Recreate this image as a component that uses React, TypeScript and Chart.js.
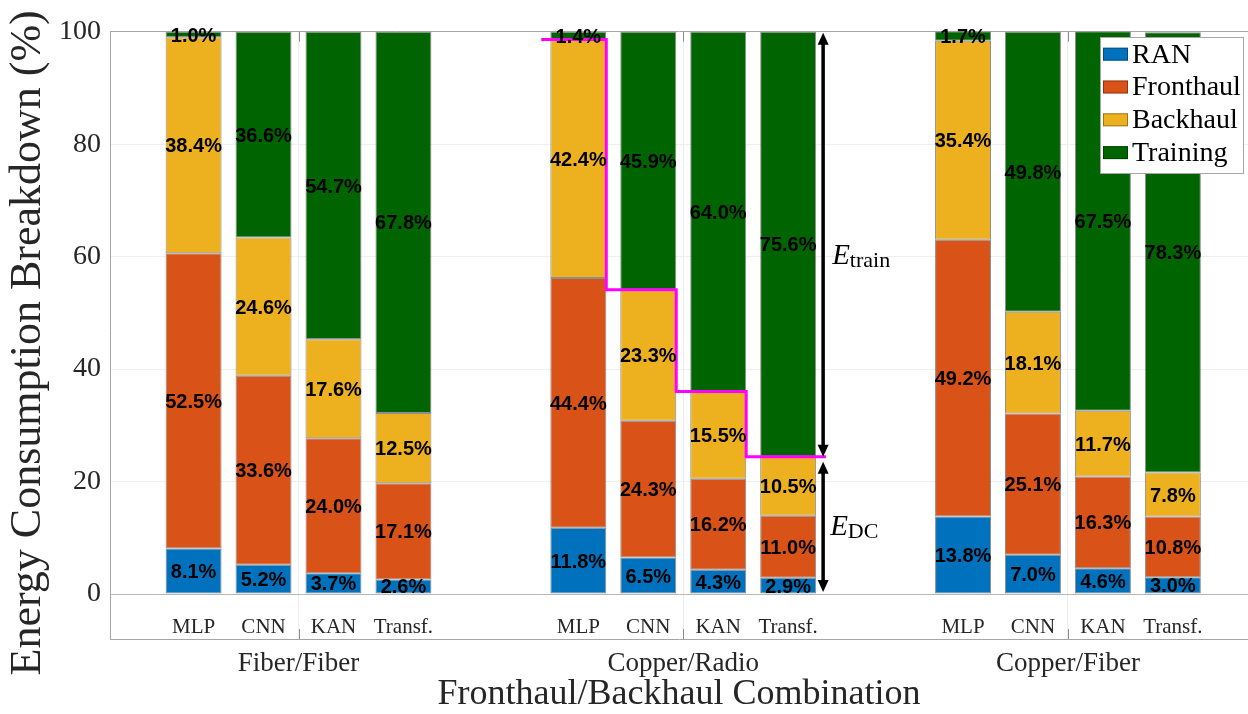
import { useEffect, useRef } from 'react';
import { Chart, registerables } from 'chart.js';

Chart.register(...registerables);

// ---- data ---------------------------------------------------------------
const groups = ['Fiber/Fiber', 'Copper/Radio', 'Copper/Fiber'];
const models = ['MLP', 'CNN', 'KAN', 'Transf.'];
const seriesNames = ['RAN', 'Fronthaul', 'Backhaul', 'Training'];

// shares (%) per bar, ordered group by group, model by model
const ranShare = [8.1, 5.2, 3.7, 2.6, 11.8, 6.5, 4.3, 2.9, 13.8, 7.0, 4.6, 3.0];
const fronthaulShare = [52.5, 33.6, 24.0, 17.1, 44.4, 24.3, 16.2, 11.0, 49.2, 25.1, 16.3, 10.8];
const backhaulShare = [38.4, 24.6, 17.6, 12.5, 42.4, 23.3, 15.5, 10.5, 35.4, 18.1, 11.7, 7.8];
const trainingShare = [1.0, 36.6, 54.7, 67.8, 1.4, 45.9, 64.0, 75.6, 1.7, 49.8, 67.5, 78.3];

const yTicks = [0, 20, 40, 60, 80, 100];
const groupTicks = [1, 2, 3];
const yTitle = 'Energy Consumption Breakdown (%)';

// ---- styling ------------------------------------------------------------
const colors = ['#0072BD', '#D95319', '#EDB120', '#006400'];
const SERIF = '"Liberation Serif", "Times New Roman", serif';
const SANS = '"Liberation Sans", Arial, sans-serif';
const AXIS_GRAY = '#a6a6a6';
const TEXT_GRAY = '#262626';

// axis limits
const xMin = 0.51;
const xMax = 3.468;
const yMin = -8;
const yMax = 100;
const modelLabelY = -5.9; // model names sit inside the axes, below zero
const eTrainY = 60.5;
const highlightGroup = 1; // Copper/Radio gets the step line and arrows

// bar centres: four models per group, groups are 5.5 bar pitches apart
const pitch = 1 / 5.5;
const barX = groups.flatMap((_, g) => models.map((_, m) => g + 1 + (m - 1.5) * pitch));

const shares = [ranShare, fronthaulShare, backhaulShare, trainingShare];

function doubleArrow(ctx: CanvasRenderingContext2D, x: number, y1: number, y2: number) {
  const hl = 12;
  const hw = 5.5;
  ctx.beginPath();
  ctx.moveTo(x, y1 + hl - 2);
  ctx.lineTo(x, y2 - hl + 2);
  ctx.stroke();
  ctx.beginPath();
  ctx.moveTo(x, y1);
  ctx.lineTo(x - hw, y1 + hl);
  ctx.lineTo(x + hw, y1 + hl);
  ctx.closePath();
  ctx.fill();
  ctx.beginPath();
  ctx.moveTo(x, y2);
  ctx.lineTo(x - hw, y2 - hl);
  ctx.lineTo(x + hw, y2 - hl);
  ctx.closePath();
  ctx.fill();
}

function subscriptLabel(ctx: CanvasRenderingContext2D, x: number, yMid: number, sub: string) {
  ctx.textAlign = 'left';
  ctx.textBaseline = 'alphabetic';
  ctx.fillStyle = '#000';
  ctx.font = `italic 29px ${SERIF}`;
  const base = yMid + 10;
  ctx.fillText('E', x, base);
  const w = ctx.measureText('E').width;
  ctx.font = `22px ${SERIF}`;
  ctx.fillText(sub, x + w, base + 3);
}

const overlay = {
  id: 'overlay',
  afterDatasetsDraw(chart: any) {
    const ctx: CanvasRenderingContext2D = chart.ctx;
    const { top, bottom, right } = chart.chartArea;
    const xs = chart.scales.x;
    const ys = chart.scales.y;
    ctx.save();

    // inward tick marks at the group centres
    ctx.strokeStyle = '#8c8c8c';
    ctx.lineWidth = 1;
    groupTicks.forEach((v) => {
      const px = Math.round(xs.getPixelForValue(v)) + 0.5;
      ctx.beginPath();
      ctx.moveTo(px, bottom);
      ctx.lineTo(px, bottom - 10);
      ctx.moveTo(px, top);
      ctx.lineTo(px, top + 10);
      ctx.stroke();
    });

    // step line over the data-centre share of the highlighted group
    const dcMeta = chart.getDatasetMeta(2);
    const els = models.map((_, m) => dcMeta.data[highlightGroup * models.length + m] as any);
    const step = els[1].x - els[0].x;
    ctx.strokeStyle = '#ff00ff';
    ctx.lineWidth = 3;
    ctx.lineJoin = 'miter';
    ctx.beginPath();
    ctx.moveTo(els[0].x - els[0].width / 2 - 0.13 * step, els[0].y);
    els.forEach((el, k) => {
      const xr = el.x + el.width / 2;
      if (k < els.length - 1) {
        ctx.lineTo(xr, el.y);
        ctx.lineTo(xr, els[k + 1].y);
      } else {
        ctx.lineTo(xr + 0.14 * step, el.y);
      }
    });
    ctx.stroke();

    // E_train / E_DC arrows beside the last bar
    const last = els[els.length - 1];
    const ax = last.x + step / 2;
    const yTop = ys.getPixelForValue(yMax);
    const yZero = ys.getPixelForValue(0);
    ctx.strokeStyle = '#000';
    ctx.fillStyle = '#000';
    ctx.lineWidth = 3.5;
    doubleArrow(ctx, ax, yTop + 1, last.y);
    doubleArrow(ctx, ax, last.y + 5, yZero - 2);
    subscriptLabel(ctx, ax + 9, ys.getPixelForValue(eTrainY), 'train');
    subscriptLabel(ctx, ax + 7, (last.y + yZero) / 2, 'DC');

    // percentage labels in every segment
    ctx.font = `bold 20px ${SANS}`;
    ctx.fillStyle = '#000';
    ctx.textAlign = 'center';
    ctx.textBaseline = 'middle';
    chart.data.datasets.forEach((ds: any, di: number) => {
      const meta = chart.getDatasetMeta(di);
      meta.data.forEach((el: any, i: number) => {
        const v = ds.data[i].y as number;
        ctx.fillText(`${v.toFixed(1)}%`, el.x, (el.y + el.base) / 2 + 1.5);
      });
    });

    // model names under each bar
    ctx.font = `21px ${SERIF}`;
    ctx.fillStyle = TEXT_GRAY;
    barX.forEach((x, i) => {
      ctx.fillText(models[i % models.length], xs.getPixelForValue(x), ys.getPixelForValue(modelLabelY));
    });

    // legend box (top-right, inside the axes)
    const lw = 143;
    const lh = 136;
    const lx = right - 5 - lw;
    const ly = top + 5.5;
    ctx.fillStyle = '#fff';
    ctx.fillRect(lx, ly, lw, lh);
    ctx.strokeStyle = AXIS_GRAY;
    ctx.lineWidth = 1;
    ctx.strokeRect(Math.round(lx) + 0.5, Math.round(ly) + 0.5, lw, lh);
    ctx.font = `28px ${SERIF}`;
    ctx.textAlign = 'left';
    ctx.textBaseline = 'middle';
    seriesNames.forEach((name, i) => {
      const ry = top + 22.5 + i * 32.8;
      ctx.fillStyle = colors[i];
      ctx.fillRect(lx + 3, ry - 6.5, 25, 13);
      ctx.strokeStyle = 'rgba(0,0,0,0.35)';
      ctx.strokeRect(lx + 3.5, ry - 6, 24, 12);
      ctx.fillStyle = '#000';
      ctx.fillText(name, lx + 32, ry + 1);
    });

    ctx.restore();
  },
  afterDraw(chart: any) {
    // rotated y-axis title, centred on the full axes box incl. the labels strip
    const ctx: CanvasRenderingContext2D = chart.ctx;
    ctx.save();
    ctx.translate(28, (chart.chartArea.top + chart.height) / 2 - 30);
    ctx.rotate(-Math.PI / 2);
    ctx.font = `44px ${SERIF}`;
    ctx.fillStyle = TEXT_GRAY;
    ctx.textAlign = 'center';
    ctx.textBaseline = 'middle';
    ctx.fillText(yTitle, 0, 0);
    ctx.restore();
  },
};

export default function App() {
  const canvasRef = useRef<HTMLCanvasElement | null>(null);

  useEffect(() => {
    document.body.style.margin = '0';
    const canvas = canvasRef.current;
    if (!canvas) return;

    const datasets = seriesNames.map((name, si) => ({
      label: name,
      data: barX.map((x, i) => ({ x, y: shares[si][i] })),
      backgroundColor: colors[si],
      borderColor: 'rgba(30,30,30,0.5)',
      borderWidth: 1,
      borderSkipped: false as const,
      categoryPercentage: 1,
      barPercentage: 0.8,
    }));

    const chart = new Chart(canvas, {
      type: 'bar',
      data: { datasets },
      options: {
        animation: false,
        responsive: false,
        devicePixelRatio: 1,
        layout: { padding: { top: 31.7, left: 0, right: 0, bottom: 0 } },
        plugins: {
          legend: { display: false },
          tooltip: { enabled: false },
        },
        scales: {
          x: {
            type: 'linear',
            stacked: true,
            offset: false,
            min: xMin,
            max: xMax,
            afterBuildTicks: (s: any) => {
              s.ticks = groupTicks.map((v) => ({ value: v }));
            },
            afterFit: (s: any) => {
              s.height = 75;
            },
            ticks: {
              autoSkip: false,
              maxRotation: 0,
              padding: 9,
              color: TEXT_GRAY,
              font: { family: SERIF, size: 27 },
              callback: (v: any) => groups[Math.round(Number(v)) - 1] ?? '',
            },
            grid: { color: '#ececec', drawTicks: false, offset: false },
            border: { display: true, color: AXIS_GRAY },
            title: {
              display: true,
              text: 'Fronthaul/Backhaul Combination',
              color: TEXT_GRAY,
              font: { family: SERIF, size: 36, lineHeight: 1 },
              padding: { top: 0, bottom: 1 },
            },
          },
          y: {
            stacked: true,
            min: yMin,
            max: yMax,
            afterBuildTicks: (s: any) => {
              s.ticks = yTicks.map((v) => ({ value: v }));
            },
            afterFit: (s: any) => {
              s.width = 110;
            },
            ticks: {
              padding: 9,
              color: TEXT_GRAY,
              font: { family: SERIF, size: 28 },
            },
            grid: {
              drawTicks: false,
              color: (c: any) =>
                c.tick?.value === 0 ? '#b8b8b8' : c.tick?.value === yMax ? AXIS_GRAY : '#efefef',
            },
            border: { display: true, color: AXIS_GRAY },
          },
        },
      },
      plugins: [overlay],
    });

    return () => chart.destroy();
  }, []);

  return (
    <div style={{ width: 1248, height: 714, background: '#fff' }}>
      <canvas ref={canvasRef} width={1248} height={714} style={{ display: 'block' }} />
    </div>
  );
}
